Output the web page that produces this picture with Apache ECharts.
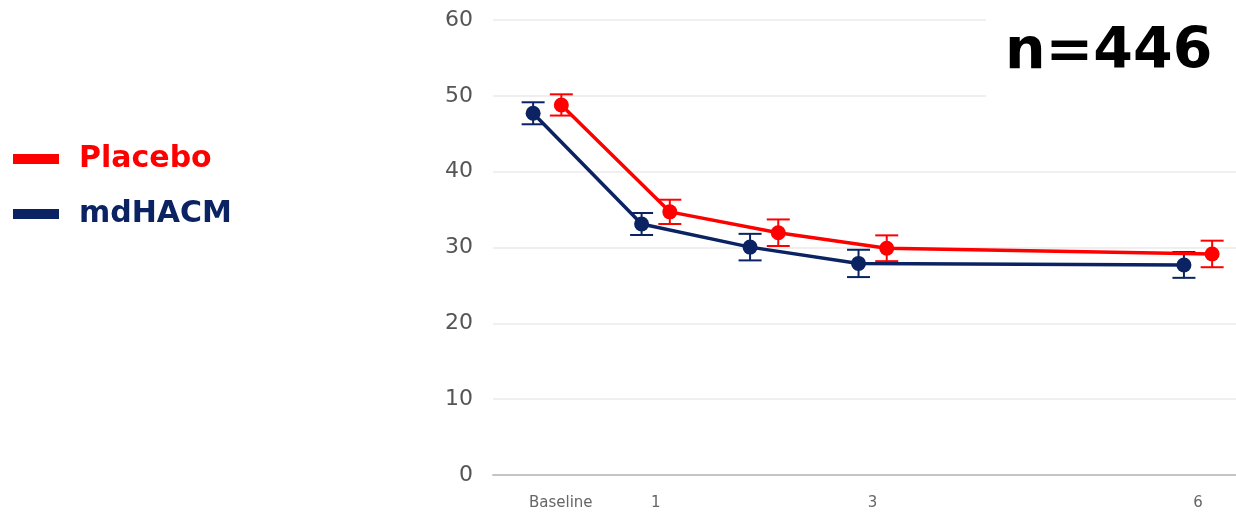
<!DOCTYPE html>
<html><head><meta charset="utf-8">
<script src="https://cdn.jsdelivr.net/npm/echarts@6/dist/echarts.min.js"></script>
<style>html,body{margin:0;padding:0;background:#fff}#c{width:1236px;height:512px}</style>
</head><body><div id="c"></div>
<script>
const months = [0, 1, 2, 3, 6];
const tickValues = [0, 1, 3, 6];
const tickLabels = {0: 'Baseline', 1: '1', 3: '3', 6: '6'};
const placeboMean = [48.8, 34.7, 31.95, 29.9, 29.15];
const placeboErr = [1.4, 1.6, 1.75, 1.7, 1.75];
const mdhacmMean = [47.7, 33.1, 30.05, 27.9, 27.7];
const mdhacmErr = [1.45, 1.45, 1.75, 1.8, 1.7];
const RED = '#ff0000', NAVY = '#0b2362';
const OFF = 0.13;

function pts(mean, off) { return months.map((m, i) => [m + off, mean[i]]); }
function errData(mean, err, off) { return months.map((m, i) => [m + off, mean[i] - err[i], mean[i] + err[i]]); }
function errSeries(name, mean, err, off, color) {
  return {
    type: 'custom', name: name, z: 3,
    data: errData(mean, err, off),
    renderItem: function (params, api) {
      const lo = api.coord([api.value(0), api.value(1)]);
      const hi = api.coord([api.value(0), api.value(2)]);
      const w = 11.5;
      const st = { stroke: color, lineWidth: 2 };
      return { type: 'group', children: [
        { type: 'line', shape: { x1: lo[0], y1: lo[1], x2: hi[0], y2: hi[1] }, style: st },
        { type: 'line', shape: { x1: lo[0] - w, y1: lo[1], x2: lo[0] + w, y2: lo[1] }, style: st },
        { type: 'line', shape: { x1: hi[0] - w, y1: hi[1], x2: hi[0] + w, y2: hi[1] }, style: st }
      ]};
    }
  };
}

const chart = echarts.init(document.getElementById('c'));
chart.setOption({
  animation: false,
  grid: { left: 493, right: 0, top: 20, bottom: 37, containLabel: false },
  legend: {
    orient: 'vertical', left: 13, top: 144, padding: 0, itemWidth: 46, itemHeight: 10, itemGap: 25,
    icon: 'rect',
    textStyle: { fontFamily: 'DejaVu Sans', fontWeight: 'bold', fontSize: 30, lineHeight: 30, padding: [0,0,0,15] },
    data: [
      { name: 'Placebo', textStyle: { color: RED } },
      { name: 'mdHACM', textStyle: { color: NAVY } }
    ]
  },
  xAxis: {
    type: 'value', min: -0.5, max: 6.35,
    axisLine: { show: true, lineStyle: { color: '#c4c4c4', width: 2 } },
    axisTick: { show: false },
    splitLine: { show: false },
    axisLabel: {
      customValues: tickValues,
      formatter: v => tickLabels[v] === 'Baseline' ? '{b|Baseline}' : (tickLabels[v] || ''),
      color: '#666', fontFamily: 'DejaVu Sans', fontSize: 15, margin: 21,
      rich: { b: { color: '#666', fontFamily: 'DejaVu Sans', fontSize: 15, padding: [0, 0, 0, 27] } }
    }
  },
  yAxis: {
    type: 'value', min: 0, max: 60, interval: 10,
    axisLine: { show: false }, axisTick: { show: false },
    splitLine: { lineStyle: { color: '#efefef', width: 2 } },
    axisLabel: { color: '#555', fontFamily: 'DejaVu Sans', fontSize: 22, margin: 20 }
  },
  series: [
    { type: 'line', name: 'mdHACM', data: pts(mdhacmMean, -OFF), color: NAVY,
      lineStyle: { width: 3.5, color: NAVY }, symbol: 'circle', symbolSize: 15,
      itemStyle: { color: NAVY }, z: 4 },
    errSeries('mdHACM', mdhacmMean, mdhacmErr, -OFF, NAVY),
    { type: 'line', name: 'Placebo', data: pts(placeboMean, OFF), color: RED,
      lineStyle: { width: 3.5, color: RED }, symbol: 'circle', symbolSize: 15,
      itemStyle: { color: RED }, z: 4 },
    errSeries('Placebo', placeboMean, placeboErr, OFF, RED)
  ],
  graphic: [
    { type: 'rect', left: 986, top: 0, shape: { width: 250, height: 110 }, style: { fill: '#fff' }, z: 10 },
    { type: 'text', x: 1005, y: 53, z: 11,
      style: { text: 'n=446', fill: '#000', font: 'bold 57px "DejaVu Sans"', verticalAlign: 'middle' } }
  ]
});
</script></body></html>
